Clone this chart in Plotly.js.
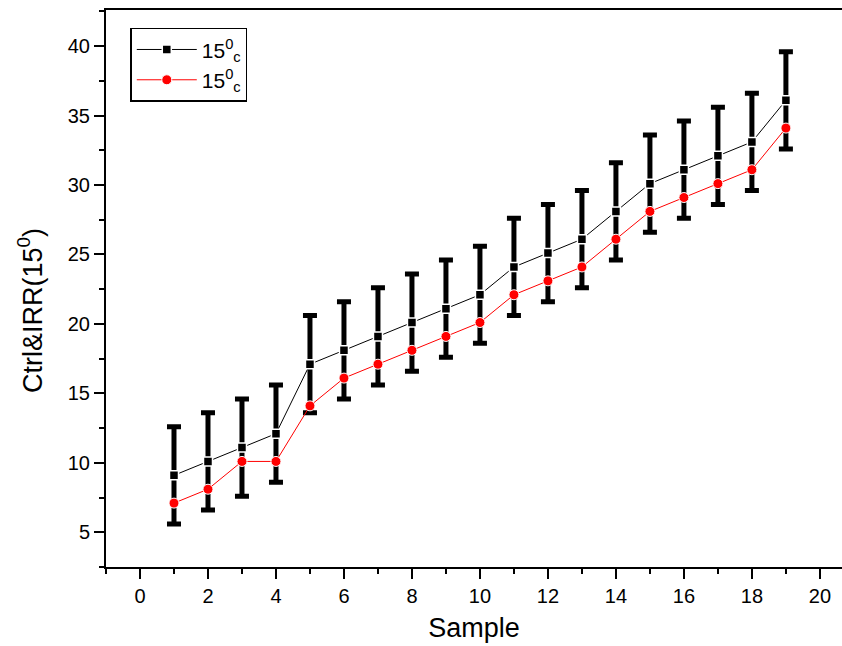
<!DOCTYPE html>
<html>
<head>
<meta charset="utf-8">
<script src="https://cdn.plot.ly/plotly-3.0.1.min.js"></script>
<style>html,body{margin:0;padding:0;background:#fff;}#chart{width:842px;height:646px;}</style>
</head>
<body>
<div id="chart"></div>
<script>
var samples = [1,2,3,4,5,6,7,8,9,10,11,12,13,14,15,16,17,18,19];
var ctrlValues = [9.1,10.1,11.1,12.1,17.1,18.1,19.1,20.1,21.1,22.1,24.1,25.1,26.1,28.1,30.1,31.1,32.1,33.1,36.1];
var ctrlError = [3.5,3.5,3.5,3.5,3.5,3.5,3.5,3.5,3.5,3.5,3.5,3.5,3.5,3.5,3.5,3.5,3.5,3.5,3.5];
var irrValues = [7.1,8.1,10.1,10.1,14.1,16.1,17.1,18.1,19.1,20.1,22.1,23.1,24.1,26.1,28.1,29.1,30.1,31.1,34.1];
var legendName = "15<sup>0</sup><sub>c</sub>";
var xTickVals = [0,2,4,6,8,10,12,14,16,18,20];
var yTickVals = [5,10,15,20,25,30,35,40];
var xTitle = 'Sample';
var yTitle = 'Ctrl&IRR(15<sup>0</sup>)';

var font = "Liberation Sans, Arial, sans-serif";

var traces = [
  {
    x: samples, y: ctrlValues, type: 'scatter', mode: 'lines+markers', name: legendName,
    line: {color: '#000000', width: 1},
    marker: {symbol: 'square', size: 9, color: '#000000', line: {color: '#ffffff', width: 1.5}},
    error_y: {type: 'data', array: ctrlError, visible: true, color: '#000000', thickness: 5, width: 7}
  },
  {
    x: samples, y: irrValues, type: 'scatter', mode: 'lines+markers', name: legendName,
    line: {color: '#ff0000', width: 1},
    marker: {symbol: 'circle', size: 10, color: '#ff0000', line: {color: '#ffffff', width: 1}}
  }
];

var layout = {
  width: 842, height: 646,
  margin: {l: 106, r: 0, t: 10, b: 79},
  paper_bgcolor: '#ffffff', plot_bgcolor: '#ffffff',
  font: {family: font, color: '#000000', size: 20},
  showlegend: true,
  legend: {
    x: 0.033, y: 0.968, xanchor: 'left', yanchor: 'top',
    bordercolor: '#000000', borderwidth: 1.5, bgcolor: '#ffffff',
    font: {family: font, size: 21, color: '#000000'},
    tracegroupgap: 0, itemwidth: 60
  },
  xaxis: {
    range: [-1, 20.65], tickmode: 'array', tickvals: xTickVals,
    ticks: 'outside', ticklen: 10, tickwidth: 2, tickcolor: '#000000',
    minor: {dtick: 1, ticks: 'outside', ticklen: 5, tickwidth: 2, tickcolor: '#000000'},
    showline: true, linewidth: 2, linecolor: '#000000', mirror: true,
    showgrid: false, zeroline: false,
    tickfont: {family: font, size: 20},
    title: {text: xTitle, font: {family: font, size: 27}, standoff: 12}
  },
  yaxis: {
    range: [2.5, 42.6], tickmode: 'array', tickvals: yTickVals,
    ticks: 'outside', ticklen: 10, tickwidth: 2, tickcolor: '#000000',
    minor: {dtick: 2.5, ticks: 'outside', ticklen: 5, tickwidth: 2, tickcolor: '#000000'},
    showline: true, linewidth: 2, linecolor: '#000000', mirror: false,
    showgrid: false, zeroline: false,
    tickfont: {family: font, size: 20}
  },
  annotations: [{
    text: yTitle, textangle: -90, showarrow: false,
    xref: 'paper', yref: 'paper', x: -0.103, y: 0.46,
    xanchor: 'center', yanchor: 'middle',
    font: {family: font, size: 27, color: '#000000'}
  }]
};

Plotly.newPlot('chart', traces, layout, {displayModeBar: false, staticPlot: true});
</script>
</body>
</html>
